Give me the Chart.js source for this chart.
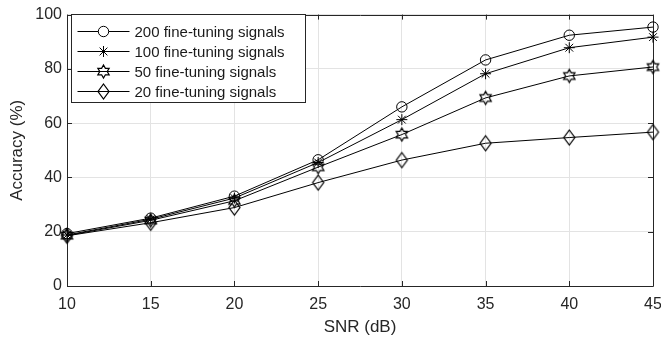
<!DOCTYPE html>
<html>
<head>
<meta charset="utf-8">
<script src="https://cdn.jsdelivr.net/npm/chart.js@4"></script>
<style>
html,body{margin:0;padding:0;background:#fff;}
#wrap{width:661px;height:343px;position:relative;}
</style>
</head>
<body>
<div id="wrap"><canvas id="c" width="661" height="343"></canvas></div>
<script>
const snr = [10, 15, 20, 25, 30, 35, 40, 45];
const acc200 = [19.3, 25.0, 33.1, 46.5, 66.0, 83.3, 92.4, 95.4];
const acc100 = [18.8, 24.6, 32.4, 45.5, 61.3, 78.2, 87.8, 91.7];
const acc50  = [18.6, 24.2, 31.4, 43.8, 55.8, 69.3, 77.4, 80.7];
const acc20  = [18.5, 23.3, 28.9, 38.1, 46.4, 52.6, 54.7, 56.7];
const seriesLabels = ['200 fine-tuning signals', '100 fine-tuning signals', '50 fine-tuning signals', '20 fine-tuning signals'];
const xTicks = [10, 15, 20, 25, 30, 35, 40, 45];
const yTicks = [0, 20, 40, 60, 80, 100];

const INK = '#000000';
const AXIS = '#262626';
const FONT = "'Liberation Sans', Arial, Helvetica, sans-serif";

function makeHexagram(R) {
  const s = 2 * Math.ceil(R + 1) + 1;
  const c = document.createElement('canvas');
  c.width = s; c.height = s;
  const g = c.getContext('2d');
  const cx = s / 2, cy = s / 2, r = R / Math.sqrt(3);
  g.beginPath();
  for (let i = 0; i < 12; i++) {
    const ang = -Math.PI / 2 + i * Math.PI / 6;
    const rr = i % 2 === 0 ? R : r;
    const x = cx + rr * Math.cos(ang), y = cy + rr * Math.sin(ang);
    if (i === 0) g.moveTo(x, y); else g.lineTo(x, y);
  }
  g.closePath();
  g.strokeStyle = INK; g.lineWidth = 1.25; g.stroke();
  return c;
}
function makeDiamond(hw, hh) {
  const w = 2 * Math.ceil(hw + 1) + 1, h = 2 * Math.ceil(hh + 1) + 1;
  const c = document.createElement('canvas');
  c.width = w; c.height = h;
  const g = c.getContext('2d');
  const cx = w / 2, cy = h / 2;
  g.beginPath();
  g.moveTo(cx, cy - hh); g.lineTo(cx + hw, cy); g.lineTo(cx, cy + hh); g.lineTo(cx - hw, cy);
  g.closePath();
  g.strokeStyle = INK; g.lineWidth = 1.25; g.stroke();
  return c;
}
const hexImg = makeHexagram(6.5);
const diaImg = makeDiamond(5.5, 7.5);

const styles = [
  { pointStyle: 'circle', pointRadius: 5.2 },
  { pointStyle: 'star', pointRadius: 5.5 },
  { pointStyle: hexImg, pointRadius: 6 },
  { pointStyle: diaImg, pointRadius: 7 }
];
const values = [acc200, acc100, acc50, acc20];

const datasets = values.map((v, i) => ({
  label: seriesLabels[i],
  data: v,
  borderColor: INK,
  backgroundColor: 'rgba(0,0,0,0)',
  borderWidth: 1,
  pointBorderColor: INK,
  pointBackgroundColor: 'rgba(0,0,0,0)',
  pointBorderWidth: 1,
  pointStyle: styles[i].pointStyle,
  pointRadius: styles[i].pointRadius,
  tension: 0,
  clip: false
}));

const boxPlugin = {
  id: 'matlabBox',
  beforeDatasetsDraw(chart) {
    const ctx = chart.ctx;
    const a = chart.chartArea;
    const xs = chart.scales.x, ys = chart.scales.y;
    ctx.save();
    ctx.strokeStyle = AXIS;
    ctx.lineWidth = 1;
    ctx.beginPath();
    ctx.rect(Math.round(a.left) + 0.5, Math.round(a.top) + 0.5, Math.round(a.right - a.left), Math.round(a.bottom - a.top));
    ctx.stroke();
    const tl = 5;
    ctx.beginPath();
    xTicks.forEach(t => {
      const x = Math.round(xs.getPixelForValue(t)) + 0.5;
      ctx.moveTo(x, a.bottom); ctx.lineTo(x, a.bottom - tl);
      ctx.moveTo(x, a.top); ctx.lineTo(x, a.top + tl);
    });
    yTicks.forEach(t => {
      const y = Math.round(ys.getPixelForValue(t)) + 0.5;
      ctx.moveTo(a.left, y); ctx.lineTo(a.left + tl, y);
      ctx.moveTo(a.right, y); ctx.lineTo(a.right - tl, y);
    });
    ctx.stroke();
    ctx.restore();
  },
  afterDraw(chart) {
    const ctx = chart.ctx;
    const a = chart.chartArea;
    ctx.save();
    // legend (north-west, boxed)
    const lx = Math.round(a.left) + 4.5, ly = Math.round(a.top) - 0.5;
    const lw = 234, rowH = 20.3, lh = 88;
    ctx.fillStyle = '#ffffff';
    ctx.fillRect(lx, ly, lw, lh);
    ctx.strokeStyle = AXIS;
    ctx.lineWidth = 1;
    ctx.strokeRect(lx, ly, lw, lh);
    ctx.font = '15px ' + FONT;
    ctx.textBaseline = 'middle';
    ctx.textAlign = 'left';
    chart.data.datasets.forEach((ds, i) => {
      const cy = Math.round(ly + 16 + i * rowH) + 0.5;
      ctx.strokeStyle = INK;
      ctx.lineWidth = 1;
      ctx.beginPath();
      ctx.moveTo(lx + 6, cy); ctx.lineTo(lx + 58, cy);
      ctx.stroke();
      Chart.helpers.drawPoint(ctx, {
        pointStyle: ds.pointStyle, radius: ds.pointRadius, rotation: 0, borderWidth: 1
      }, lx + 32, cy);
      ctx.fillStyle = '#1a1a1a';
      ctx.fillText(ds.label, lx + 63, cy + 1);
    });
    ctx.restore();
  }
};

new Chart(document.getElementById('c'), {
  type: 'line',
  data: { labels: snr, datasets },
  options: {
    responsive: false,
    animation: false,
    devicePixelRatio: 1,
    layout: { padding: { left: 0, right: 0, top: 14, bottom: 0 } },
    plugins: { legend: { display: false }, tooltip: { enabled: false } },
    scales: {
      x: {
        type: 'linear',
        min: 10, max: 45,
        afterFit(s) { s.height = 57; s.paddingRight = 0; },
        afterBuildTicks(s) { s.ticks = xTicks.map(v => ({ value: v })); },
        grid: { color: '#e3e3e3', drawTicks: false, lineWidth: 1 },
        border: { display: false },
        ticks: { color: '#262626', font: { family: FONT, size: 16 }, padding: 9, maxRotation: 0 },
        title: { display: true, text: 'SNR (dB)', color: '#262626', font: { family: FONT, size: 17 }, padding: { top: 0, bottom: 5 } }
      },
      y: {
        min: 0, max: 100,
        afterFit(s) { s.width = 67; },
        afterBuildTicks(s) { s.ticks = yTicks.map(v => ({ value: v })); },
        grid: { color: '#e3e3e3', drawTicks: false, lineWidth: 1 },
        border: { display: false },
        ticks: { color: '#262626', font: { family: FONT, size: 16 }, padding: 5 },
        title: { display: true, text: 'Accuracy (%)', color: '#262626', font: { family: FONT, size: 17 }, padding: { top: 7, bottom: 0 } }
      }
    }
  },
  plugins: [boxPlugin]
});
</script>
</body>
</html>
